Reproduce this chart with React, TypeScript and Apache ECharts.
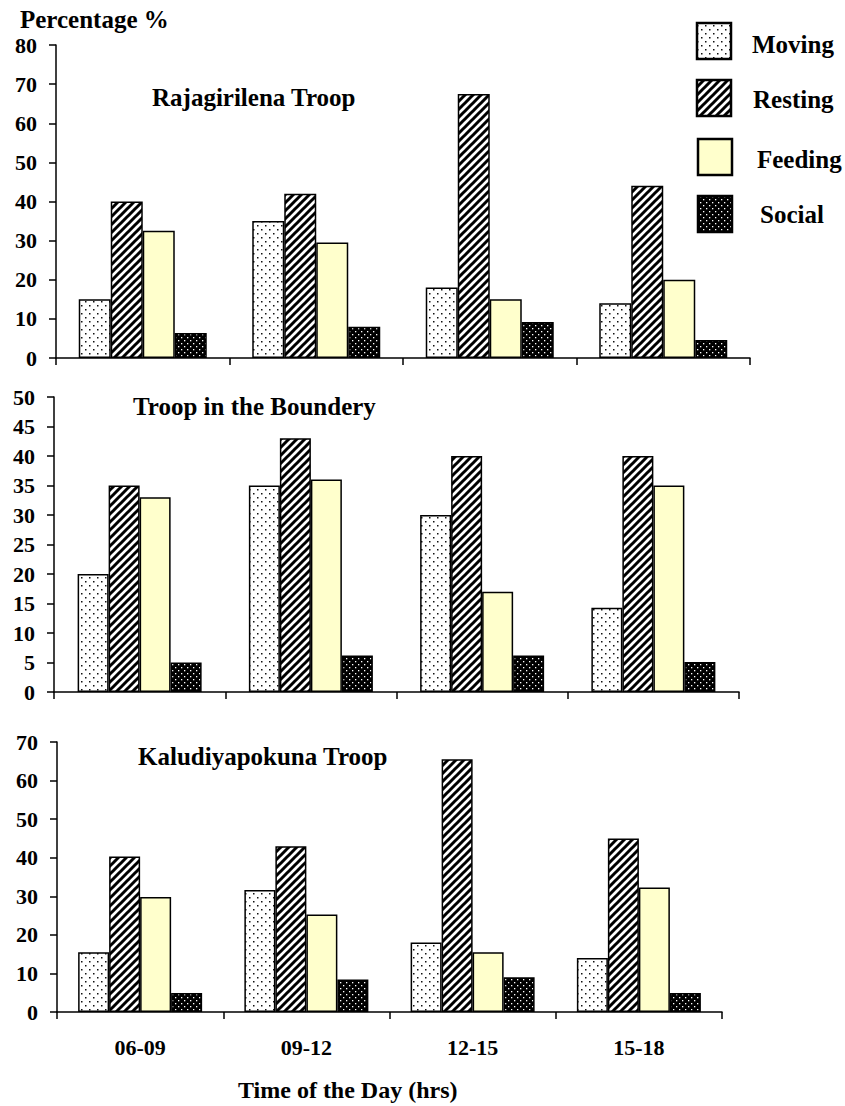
import React, { useEffect, useRef } from "react";
import * as echarts from "echarts";

const categories = ["06-09", "09-12", "12-15", "15-18"];
const activities = ["Moving", "Resting", "Feeding", "Social"];

// Rajagirilena Troop
const rajMoving = [15, 35, 18, 14];
const rajResting = [40, 42, 67.5, 44];
const rajFeeding = [32.5, 29.5, 15, 20];
const rajSocial = [6.4, 8, 9.2, 4.6];

// Troop in the Boundery
const bndMoving = [20, 35, 30, 14.3];
const bndResting = [35, 43, 40, 40];
const bndFeeding = [33, 36, 17, 35];
const bndSocial = [5, 6.2, 6.2, 5.1];

// Kaludiyapokuna Troop
const kalMoving = [15.5, 31.6, 18, 14];
const kalResting = [40.3, 43, 65.5, 45];
const kalFeeding = [29.8, 25.3, 15.5, 32.3];
const kalSocial = [4.9, 8.4, 9, 4.9];

const panelTitles = ["Rajagirilena Troop", "Troop in the Boundery", "Kaludiyapokuna Troop"];
const yMax = [80, 50, 70];
const yInterval = [10, 5, 10];

const FONT = "Liberation Serif, Times New Roman, serif";

function makeTile(w: number, h: number, draw: (c: CanvasRenderingContext2D) => void) {
  const cv = document.createElement("canvas");
  cv.width = w;
  cv.height = h;
  const ctx = cv.getContext("2d")!;
  draw(ctx);
  return cv;
}

export default function App() {
  const ref = useRef<HTMLDivElement>(null);

  useEffect(() => {
    if (!ref.current) return;
    const chart = echarts.init(ref.current, undefined, { renderer: "svg" });

    const dots = makeTile(8, 8, (c) => {
      c.fillStyle = "#fff";
      c.fillRect(0, 0, 8, 8);
      c.fillStyle = "#111";
      c.fillRect(1, 1, 1.5, 1.5);
      c.fillRect(5, 5, 1.5, 1.5);
    });
    const stripes = makeTile(8, 8, (c) => {
      c.fillStyle = "#fff";
      c.fillRect(0, 0, 8, 8);
      c.strokeStyle = "#000";
      c.lineWidth = 3;
      c.beginPath();
      c.moveTo(-1, 9);
      c.lineTo(9, -1);
      c.moveTo(-2, 2);
      c.lineTo(2, -2);
      c.moveTo(6, 10);
      c.lineTo(10, 6);
      c.stroke();
    });
    const social = makeTile(6, 6, (c) => {
      c.fillStyle = "#000";
      c.fillRect(0, 0, 6, 6);
      c.fillStyle = "#fff";
      c.fillRect(1, 1, 1.3, 1.3);
      c.fillRect(4, 4, 1.3, 1.3);
    });

    const fills: any[] = [
      { image: dots, repeat: "repeat" },
      { image: stripes, repeat: "repeat" },
      "#FFFFCC",
      { image: social, repeat: "repeat" },
    ];

    const panels = [
      [rajMoving, rajResting, rajFeeding, rajSocial],
      [bndMoving, bndResting, bndFeeding, bndSocial],
      [kalMoving, kalResting, kalFeeding, kalSocial],
    ];

    const grids = [
      { left: 56, top: 45, width: 694, height: 313 },
      { left: 54, top: 397, width: 685, height: 295 },
      { left: 57, top: 742, width: 665, height: 270 },
    ];
    const barWidths = [32, 31, 31];

    const xAxes = grids.map((_, i) => ({
      type: "category",
      gridIndex: i,
      data: categories,
      axisLine: { lineStyle: { color: "#000", width: 1.5 } },
      axisTick: { show: true, length: 7, lineStyle: { color: "#000", width: 1.5 } },
      axisLabel: {
        show: i === 2,
        color: "#000",
        fontFamily: FONT,
        fontWeight: "bold",
        fontSize: 22,
        margin: 24,
      },
      splitLine: { show: false },
    }));

    const yAxes = grids.map((_, i) => ({
      type: "value",
      gridIndex: i,
      min: 0,
      max: yMax[i],
      interval: yInterval[i],
      axisLine: { show: true, lineStyle: { color: "#000", width: 1.5 } },
      axisTick: { show: true, length: 7, lineStyle: { color: "#000", width: 1.5 } },
      axisLabel: {
        color: "#000",
        fontFamily: FONT,
        fontWeight: "bold",
        fontSize: 22,
        margin: 19,
      },
      splitLine: { show: false },
    }));

    const series: any[] = [];
    panels.forEach((p, pi) => {
      p.forEach((vals, si) => {
        series.push({
          type: "bar",
          name: activities[si],
          xAxisIndex: pi,
          yAxisIndex: pi,
          data: vals,
          barWidth: barWidths[pi],
          barGap: "0%",
          itemStyle: { color: fills[si], borderColor: "#000", borderWidth: 1.5 },
        });
      });
    });

    const titlePos = [
      [152, 97],
      [133, 406],
      [138, 756],
    ];
    const legendBoxes = [
      [697, 23],
      [697, 80],
      [698, 139],
      [698, 196],
    ];
    const legendText = [
      [752, 44],
      [753, 99],
      [757, 159],
      [760, 214],
    ];

    const txt = (text: string, x: number, y: number, size: number) => ({
      type: "text",
      x,
      y,
      style: {
        text,
        fontFamily: FONT,
        fontWeight: "bold",
        fontSize: size,
        fill: "#000",
        verticalAlign: "middle",
      },
    });

    const graphic: any[] = [];
    graphic.push(txt("Percentage %", 20, 19, 25));
    panelTitles.forEach((t, i) => {
      graphic.push(txt(t, titlePos[i][0], titlePos[i][1], 25));
    });
    activities.forEach((a, i) => {
      graphic.push({
        type: "rect",
        shape: { x: legendBoxes[i][0], y: legendBoxes[i][1], width: 34, height: 36 },
        style: { fill: fills[i], stroke: "#000", lineWidth: 2.5 },
      });
      graphic.push(txt(a, legendText[i][0], legendText[i][1], 25));
    });
    graphic.push(txt("Time of the Day (hrs)", 238, 1090, 24));

    chart.setOption({
      animation: false,
      backgroundColor: "#fff",
      grid: grids,
      xAxis: xAxes,
      yAxis: yAxes,
      series,
      graphic,
    });

    return () => chart.dispose();
  }, []);

  return (
    <div
      ref={ref}
      style={{ position: "absolute", left: 0, top: 0, width: 845, height: 1106 }}
    />
  );
}
